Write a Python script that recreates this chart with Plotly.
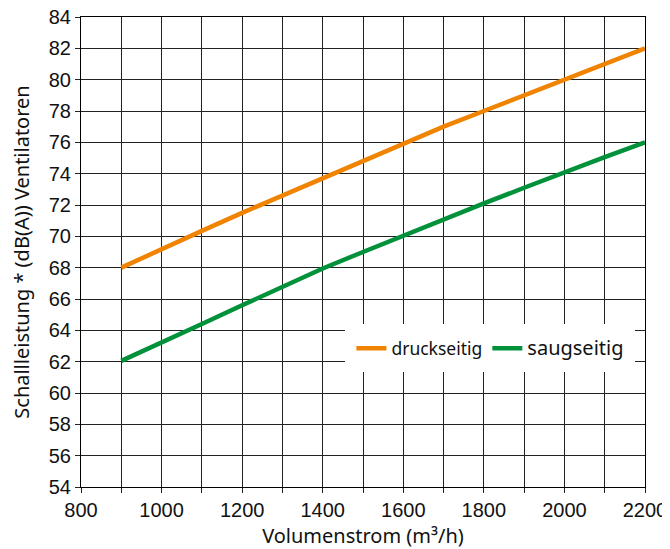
import plotly.graph_objects as go

volumenstrom = [900, 1000, 1100, 1200, 1300, 1400, 1500, 1600, 1700, 1800, 1900, 2000, 2100, 2200]
druckseitig = [68.0, 69.2, 70.35, 71.5, 72.6, 73.7, 74.85, 75.95, 77.0, 78.0, 79.0, 80.05, 81.05, 82.0]
saugseitig = [62.05, 63.2, 64.4, 65.6, 66.8, 67.95, 69.0, 70.05, 71.1, 72.1, 73.1, 74.1, 75.05, 76.0]

x_ticks = list(range(800, 2201, 100))
x_labels = [str(v) if v % 200 == 0 else "" for v in x_ticks]
y_ticks = list(range(54, 85, 2))

fig = go.Figure()
fig.add_trace(go.Scatter(x=volumenstrom, y=druckseitig, mode="lines", name="druckseitig",
                         line=dict(color="#F08300", width=4.5)))
fig.add_trace(go.Scatter(x=volumenstrom, y=saugseitig, mode="lines",
                         name='<span style="font-size:20px">saugseitig</span>',
                         line=dict(color="#00913A", width=4.5)))

title_font = dict(family="Noto Sans", size=20, color="#111")
tick_font = dict(family="Liberation Sans, Arial", size=20, color="#111")

# the page body adds an 8px offset, so the figure is 8px smaller and margins compensate
fig.update_layout(
    width=662, height=541,
    margin=dict(l=73, r=25, t=9, b=62),
    paper_bgcolor="white", plot_bgcolor="white",
    showlegend=True,
    legend=dict(orientation="h", x=0.983, xanchor="right", y=0.295, yanchor="middle",
                bgcolor="white", bordercolor="white", borderwidth=6,
                font=dict(family="Noto Sans", size=17.5, color="#111"),
                itemwidth=30, tracegroupgap=0),
    xaxis=dict(range=[800, 2200], tickvals=x_ticks, ticktext=x_labels,
               showgrid=True, gridcolor="#222", gridwidth=1,
               ticks="outside", ticklen=5, tickcolor="#222",
               showline=True, linecolor="#000", linewidth=1, mirror=True,
               zeroline=False, tickfont=tick_font, automargin=False,
               ticklabeloverflow="allow",
               title=dict(text="Volumenstrom (m³/h)", font=title_font)),
    yaxis=dict(range=[54, 84], tickvals=y_ticks,
               showgrid=True, gridcolor="#222", gridwidth=1,
               ticks="outside", ticklen=5, tickcolor="#222",
               showline=True, linecolor="#000", linewidth=1, mirror=True,
               zeroline=False, tickfont=tick_font, automargin=False,
               ticklabeloverflow="allow",
               title=dict(text="Schallleistung * (dB(A)) Ventilatoren", font=title_font)),
)

fig.write_html("out.html")
